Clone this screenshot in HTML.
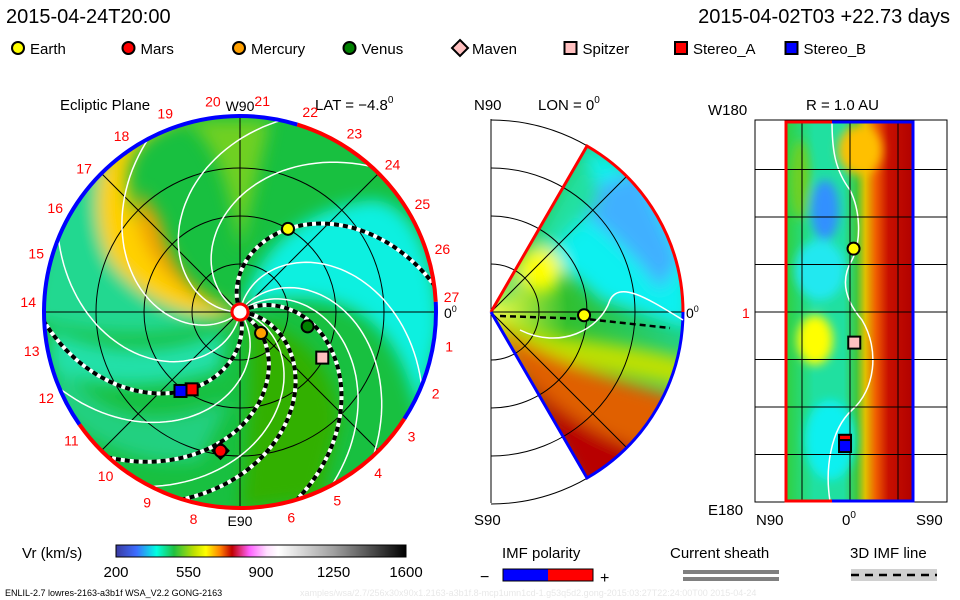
<!DOCTYPE html>
<html><head><meta charset="utf-8">
<style>
html,body{margin:0;padding:0;background:#fff;}
svg{display:block;font-family:"Liberation Sans","DejaVu Sans",sans-serif;}
.t{font-size:15px;fill:#000;}
.r{font-size:14px;fill:#f00;}
</style></head>
<body>
<svg id="c" width="960" height="600" viewBox="0 0 960 600" xmlns="http://www.w3.org/2000/svg">
<defs>
  <clipPath id="discClip"><circle cx="240" cy="312" r="196"/></clipPath>
  <clipPath id="wedgeClip"><path d="M491,312 L587,146 A192,192 0 0 1 587,478 Z"/></clipPath>
  <clipPath id="stripClip"><rect x="786" y="121" width="128" height="380"/></clipPath>
  <filter id="blur8"><feGaussianBlur stdDeviation="8"/></filter>
  <filter id="blur5"><feGaussianBlur stdDeviation="5"/></filter>
  <linearGradient id="cbar" x1="0" x2="1" y1="0" y2="0">
    <stop offset="0" stop-color="#3a3aa0"/><stop offset="0.07" stop-color="#3c6cff"/>
    <stop offset="0.14" stop-color="#00ffe0"/><stop offset="0.2" stop-color="#20c040"/>
    <stop offset="0.27" stop-color="#c0e000"/><stop offset="0.31" stop-color="#ffff00"/>
    <stop offset="0.36" stop-color="#ff8000"/><stop offset="0.4" stop-color="#c00000"/>
    <stop offset="0.46" stop-color="#ff60ff"/><stop offset="0.52" stop-color="#ffe0ff"/>
    <stop offset="0.56" stop-color="#ffffff"/><stop offset="0.75" stop-color="#a0a0a0"/>
    <stop offset="1" stop-color="#000000"/>
  </linearGradient>
  <linearGradient id="stripG" x1="0" x2="1">
    <stop offset="0" stop-color="#30d040"/><stop offset="0.22" stop-color="#20e0a0"/>
    <stop offset="0.45" stop-color="#20e0a0"/><stop offset="0.55" stop-color="#40c840"/>
    <stop offset="0.62" stop-color="#e0c000"/><stop offset="0.7" stop-color="#f06000"/>
    <stop offset="0.8" stop-color="#c81000"/><stop offset="1" stop-color="#b00000"/>
  </linearGradient>
  <radialGradient id="wedgeR" cx="491" cy="312" r="192" gradientUnits="userSpaceOnUse">
    <stop offset="0" stop-color="#ffff40"/><stop offset="0.4" stop-color="#30c030"/><stop offset="1" stop-color="#20d080"/>
  </radialGradient>
</defs>

<text x="6" y="23" font-size="20">2015-04-24T20:00</text>
<text x="950" y="23" font-size="20" text-anchor="end">2015-04-02T03 +22.73 days</text>

<g id="legend"></g>

<g>
  <text x="60" y="110" class="t">Ecliptic Plane</text>
  <text x="315" y="110" class="t">LAT = −4.8<tspan font-size="10" dy="-7">0</tspan></text>
  <g clip-path="url(#discClip)">
    <circle cx="240" cy="312" r="196" fill="#18c040"/>
    <g filter="url(#blur8)">
      <path d="M240,312 C180,300 120,260 110,170 L60,150 L30,320 L80,330 C150,340 200,330 240,312Z" fill="#20d890"/>
      <path d="M236,310 C190,300 150,260 130,200 C120,160 140,130 190,118 L140,110 C90,150 90,220 110,260 C140,300 190,320 236,314Z" fill="#ffd000"/>
      <path d="M236,310 C200,300 170,270 160,220 L140,190 C130,240 160,290 236,312Z" fill="#f0a000"/>
      <path d="M180,120 C210,130 230,180 240,250 L270,120Z" fill="#70d020"/>
      <path d="M245,300 C260,250 300,210 370,200 C420,200 440,280 440,330 L420,420 C400,330 360,280 245,305Z" fill="#10f0e0"/>
      <path d="M250,320 C290,330 330,350 340,420 L320,500 L240,510 C250,440 250,370 250,320Z" fill="#30b000"/>
      <path d="M60,360 C100,420 150,430 230,400 L200,460 C140,470 80,440 50,400Z" fill="#20d080"/>
      <path d="M50,330 C100,350 160,360 225,330 L220,370 C160,390 100,390 50,370Z" fill="#20e0a8"/>
    </g>
  </g>
  <g id="leftGrid" stroke="#000" stroke-width="1" fill="none"></g>
  <g id="spirals" clip-path="url(#discClip)"></g>
  <g id="rim"></g>
  <circle cx="240" cy="312" r="8" fill="#fff" stroke="#f00" stroke-width="3"/>
  <g id="lonLabels"></g>
  <text x="240" y="111" font-size="14" text-anchor="middle">W90</text>
  <text x="240" y="526" font-size="14" text-anchor="middle">E90</text>
  <text x="444" y="318" font-size="14">0<tspan font-size="9" dy="-6">0</tspan></text>
  <g id="leftPlanets"></g>
</g>

<g>
  <text x="474" y="110" class="t">N90</text>
  <text x="538" y="110" class="t">LON = 0<tspan font-size="10" dy="-7">0</tspan></text>
  <text x="474" y="525" class="t">S90</text>
  <g clip-path="url(#wedgeClip)">
    <rect x="480" y="130" width="210" height="360" fill="url(#wedgeR)"/>
    <g filter="url(#blur8)">
      <path d="M491,312 L587,146 L690,200 L690,330 L600,300 C560,260 530,250 491,312Z" fill="#10f0f0"/>
      <path d="M560,200 C600,220 640,260 660,290 L680,260 L640,170 Z" fill="#40b0ff"/>
      <path d="M491,312 L600,200 L587,146Z" fill="#20e0a0"/>
      <path d="M491,318 C540,340 620,340 690,360 L690,390 C620,370 540,370 491,320Z" fill="#c0e000"/>
      <path d="M491,320 C540,360 620,380 690,400 L690,500 L587,500Z" fill="#e06000"/>
      <path d="M510,360 C560,420 620,450 690,460 L690,500 L587,500Z" fill="#b80000"/>
      <ellipse cx="540" cy="270" rx="22" ry="22" fill="#ffff00"/>
    </g>
  </g>
  <g id="midGrid" stroke="#000" stroke-width="1" fill="none"></g>
  <path d="M491,312 L587,146 A192,192 0 0 1 683,312" fill="none" stroke="#f00" stroke-width="3"/>
  <path d="M491,312 L587,478 A192,192 0 0 0 683,312" fill="none" stroke="#00f" stroke-width="3"/>
  <path d="M500,316 L560,318 L586,319 L670,328" stroke="#000" stroke-width="2.5" stroke-dasharray="6 4" fill="none"/>
  <path d="M520,330 C560,350 600,330 610,300 C620,280 650,300 683,320" stroke="#fff" stroke-width="1.5" fill="none"/>
  <text x="686" y="318" font-size="14">0<tspan font-size="9" dy="-6">0</tspan></text>
  <g id="midPlanets"></g>
</g>

<g>
  <text x="806" y="110" class="t">R = 1.0 AU</text>
  <text x="708" y="115" class="t">W180</text>
  <text x="708" y="515" class="t">E180</text>
  <text x="742" y="318" font-size="14" fill="#f00">1</text>
  <text x="756" y="525" class="t">N90</text>
  <text x="842" y="525" class="t">0<tspan font-size="10" dy="-7">0</tspan></text>
  <text x="916" y="525" class="t">S90</text>
  <g clip-path="url(#stripClip)">
    <rect x="786" y="121" width="128" height="380" fill="url(#stripG)"/>
    <g filter="url(#blur5)">
      <ellipse cx="825" cy="210" rx="14" ry="30" fill="#3090ff"/>
      <ellipse cx="820" cy="270" rx="25" ry="30" fill="#20e8f0"/>
      <ellipse cx="815" cy="340" rx="18" ry="25" fill="#ffff00"/>
      <ellipse cx="830" cy="440" rx="25" ry="40" fill="#10f0f0"/>
      <ellipse cx="860" cy="150" rx="22" ry="25" fill="#ffc000"/>
      <ellipse cx="800" cy="180" rx="10" ry="40" fill="#70d020"/>
    </g>
    <path d="M832,121 C832,150 835,170 850,190 C860,210 862,240 852,260 C840,280 845,300 862,320 C880,350 875,390 852,410 C830,430 825,470 830,501" stroke="#fff" stroke-width="1.5" fill="none"/>
  </g>
  <g id="rightGrid" stroke="#000" stroke-width="1" fill="none"></g>
  <path d="M832,122 L786,122 L786,501 L832,501" stroke="#f00" stroke-width="3" fill="none"/>
  <path d="M832,122 L913,122 L913,501 L832,501" stroke="#00f" stroke-width="3" fill="none"/>
  <g id="rightPlanets"></g>
</g>

<g>
  <text x="22" y="558" class="t">Vr (km/s)</text>
  <rect x="116" y="545" width="290" height="12" fill="url(#cbar)" stroke="#000" stroke-width="1"/>
  <g id="cbTicks"></g>
</g>
<g>
  <text x="502" y="558" class="t">IMF polarity</text>
  <text x="480" y="582" font-size="16">−</text>
  <rect x="503" y="569" width="45" height="12" fill="#00f"/>
  <rect x="548" y="569" width="45" height="12" fill="#f00"/>
  <rect x="503" y="569" width="90" height="12" fill="none" stroke="#000"/>
  <text x="600" y="583" font-size="16">+</text>
</g>
<g>
  <text x="670" y="558" class="t">Current sheath</text>
  <rect x="683" y="570" width="96" height="4" fill="#808080"/>
  <rect x="683" y="577" width="96" height="4" fill="#808080"/>
</g>
<g>
  <text x="850" y="558" class="t">3D IMF line</text>
  <rect x="851" y="569" width="86" height="12" fill="#d0d0d0"/>
  <line x1="851" y1="575" x2="937" y2="575" stroke="#000" stroke-width="2.5" stroke-dasharray="8 6"/>
</g>
<text x="5" y="596" font-size="9">ENLIL-2.7 lowres-2163-a3b1f WSA_V2.2 GONG-2163</text>
<text x="300" y="596" font-size="9" fill="#e8e8e8">xamples/wsa/2.7/256x30x90x1.2163-a3b1f.8-mcp1umn1cd-1.g53q5d2.gong-2015:03:27T22:24:00T00  2015-04-24</text>
</svg>

<script>
const legendNames = ["Earth","Mars","Mercury","Venus","Maven","Spitzer","Stereo_A","Stereo_B"];
const legendColors = ["#ffff00","#ff0000","#ffa000","#008000","#ffc0c0","#ffc0c0","#ff0000","#0000ff"];
const legendShapes = ["circle","circle","circle","circle","diamond","square","square","square"];
const eclNames = ["Earth","Mercury","Venus","Spitzer","Maven","Mars","Stereo_A","Stereo_B"];
const eclLonDeg = [60, -45, -12, -29, -98, -98, -122, -127];
const eclRadAU = [1.0, 0.31, 0.72, 0.98, 1.46, 1.46, 0.95, 1.03];
const spiralPhase = [110, 29, -5, -30, -75];
const whitePhase = [150, 80, 55, 40, -15, -55, -100, -140, 180];
const cbTickValues = [200, 550, 900, 1250, 1600];
const midEarthLatDeg = [-2];
const midEarthRadAU = [0.97];
const stripNames = ["Earth","Spitzer","Stereo_A","Stereo_B"];
const stripLat = [5, 6, -7, -7];
const stripLon = [60, -29, -122, -127];

const NS = "http://www.w3.org/2000/svg";
function mk(tag, attrs, parent){const e=document.createElementNS(NS,tag);for(const k in attrs)e.setAttribute(k,attrs[k]);parent.appendChild(e);return e;}
function $(id){return document.getElementById(id);}

const CX=240, CY=312, PX_AU=96, WIND=50;
function xE(lon,r){return CX + r*PX_AU*Math.cos(lon*Math.PI/180);}
function yE(lon,r){return CY - r*PX_AU*Math.sin(lon*Math.PI/180);}
const MX=491, MY=312, M_AU=96;
function xM(lat,r){return MX + r*M_AU*Math.cos(lat*Math.PI/180);}
function yM(lat,r){return MY - r*M_AU*Math.sin(lat*Math.PI/180);}
function xS(lat){return 850 + lat*(64/90);}
function yS(lon){return 312 - lon*(190/180);}
function xCB(v){return 116 + (v-200)/(1600-200)*290;}

function marker(parent, shape, color, x, y, name){
  let e;
  if(shape==="circle") e=mk("circle",{cx:x,cy:y,r:6,fill:color,stroke:"#000","stroke-width":2},parent);
  else if(shape==="square") e=mk("rect",{x:x-6,y:y-6,width:12,height:12,fill:color,stroke:"#000","stroke-width":2},parent);
  else e=mk("path",{d:`M${x},${y-8} L${x+8},${y} L${x},${y+8} L${x-8},${y}Z`,fill:color,stroke:"#000","stroke-width":2},parent);
  
  
  return e;
}

const leg=$("legend");
legendNames.forEach((n,i)=>{
  const x=18+i*110.5, y=48;
  marker(leg, legendShapes[i], legendColors[i], x, y, "legend-marker-"+n.toLowerCase());
  const t=mk("text",{x:x+12,y:y+6,"font-size":15},leg);
  t.textContent=n;
  
  
});

const lg=$("leftGrid");
[0.5,1.0,1.5].forEach(r=>mk("circle",{cx:CX,cy:CY,r:r*PX_AU},lg));
[0,45,90,135].forEach(a=>{
  mk("line",{x1:xE(a,2.04),y1:yE(a,2.04),x2:xE(a+180,2.04),y2:yE(a+180,2.04)},lg);
});

const sp=$("spirals");
function spiralPath(ph){let d="";for(let r=0.1;r<=2.1;r+=0.04){const lon=ph-WIND*r;d+=(d?"L":"M")+xE(lon,r).toFixed(1)+","+yE(lon,r).toFixed(1);}return d;}
whitePhase.forEach(ph=>{const p=mk("path",{d:spiralPath(ph),stroke:"#fff","stroke-width":1.5,fill:"none"},sp);
  });
spiralPhase.forEach(ph=>{
  const d=spiralPath(ph);
  mk("path",{d:d,stroke:"#fff","stroke-width":4,fill:"none"},sp);
  const p=mk("path",{d:d,stroke:"#000","stroke-width":4,"stroke-dasharray":"5 4",fill:"none"},sp);
  
});

const rim=$("rim");
function arc(a1,a2,color){
  const r=196;const large=Math.abs(a2-a1)>180?1:0;
  const x1=CX+r*Math.cos(a1*Math.PI/180),y1=CY-r*Math.sin(a1*Math.PI/180);
  const x2=CX+r*Math.cos(a2*Math.PI/180),y2=CY-r*Math.sin(a2*Math.PI/180);
  mk("path",{d:`M${x1},${y1} A${r},${r} 0 ${large} 0 ${x2},${y2}`,stroke:color,"stroke-width":4,fill:"none"},rim);
}
arc(73,215,"#00f"); arc(215,327,"#f00"); arc(-33,3,"#00f"); arc(3,73,"#f00");

const ll=$("lonLabels");
for(let k=1;k<=27;k++){
  if(k===7) continue;
  const a=(27-k)*360/27+4, r=212;
  const t=mk("text",{x:(CX+r*Math.cos(a*Math.PI/180)).toFixed(1),y:(CY-r*Math.sin(a*Math.PI/180)+5).toFixed(1),"text-anchor":"middle",class:"r"},ll);
  t.textContent=k;
  
  
}

const lp=$("leftPlanets");
eclNames.forEach((n,i)=>{
  const li=legendNames.indexOf(n);
  marker(lp, legendShapes[li], legendColors[li], xE(eclLonDeg[i],eclRadAU[i]), yE(eclLonDeg[i],eclRadAU[i]), "planet-"+n.toLowerCase());
});

const mg=$("midGrid");
[0.5,1.0,1.5,2.0].forEach(r=>{
  mk("path",{d:`M${MX},${MY-r*M_AU} A${r*M_AU},${r*M_AU} 0 0 1 ${MX},${MY+r*M_AU}`},mg);
});
mk("line",{x1:MX,y1:119,x2:MX,y2:503},mg);
mk("line",{x1:MX,y1:MY,x2:683,y2:MY},mg);
mk("line",{x1:MX,y1:MY,x2:xM(45,2),y2:yM(45,2)},mg);
mk("line",{x1:MX,y1:MY,x2:xM(-45,2),y2:yM(-45,2)},mg);
midEarthLatDeg.forEach((lat,i)=>marker($("midPlanets"),"circle","#ffff00",xM(lat,midEarthRadAU[i]),yM(lat,midEarthRadAU[i]),"mid-earth"));

const rg=$("rightGrid");
mk("rect",{x:755,y:120,width:192,height:382},rg);
for(let lon=-135;lon<=135;lon+=45) mk("line",{x1:755,y1:yS(lon),x2:947,y2:yS(lon)},rg);
[-67.5,0,67.5].forEach(l=>mk("line",{x1:xS(l),y1:120,x2:xS(l),y2:502},rg));
stripNames.forEach((n,i)=>{
  const li=legendNames.indexOf(n);
  marker($("rightPlanets"), legendShapes[li], legendColors[li], xS(stripLat[i]), yS(stripLon[i]), "strip-"+n.toLowerCase());
});

const cb=$("cbTicks");
cbTickValues.forEach(v=>{
  const t=mk("text",{x:xCB(v),y:577,"text-anchor":"middle","font-size":15},cb);
  t.textContent=v;
  
  
});
</script>
</body></html>
